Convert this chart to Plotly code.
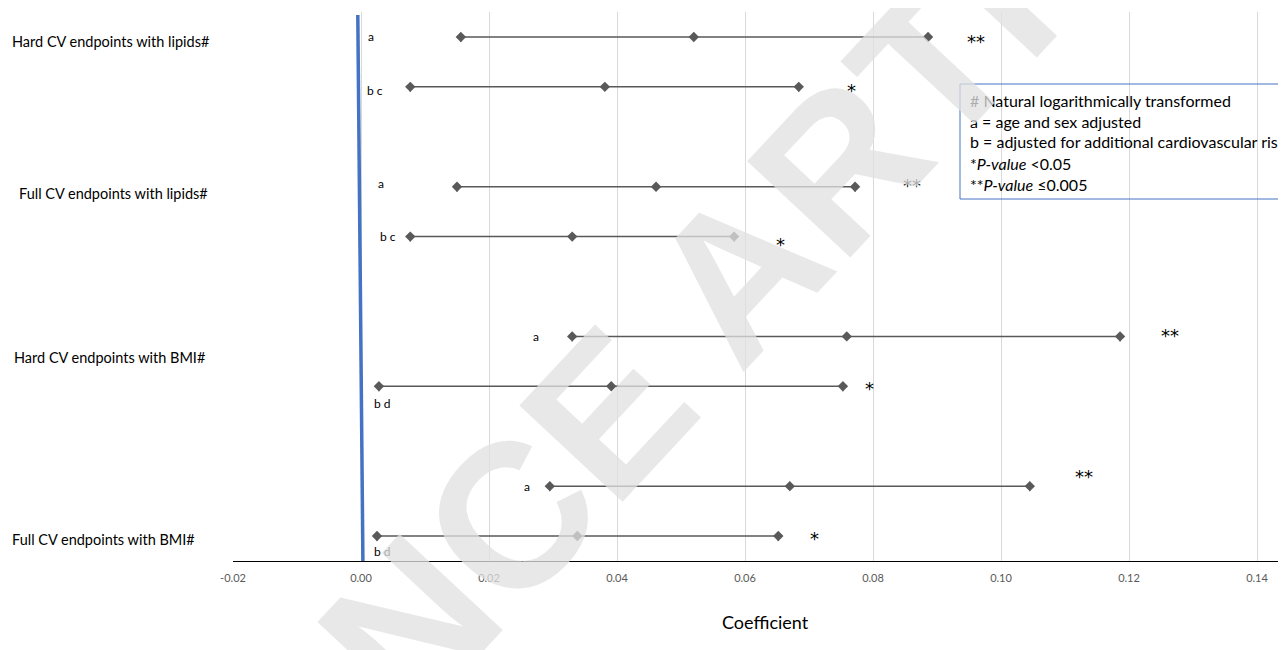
import plotly.graph_objects as go

# ---------------- data ----------------
categories = ["Hard CV endpoints with lipids#", "Full CV endpoints with lipids#",
              "Hard CV endpoints with BMI#", "Full CV endpoints with BMI#"]
row_tags = ["a", "b c", "a", "b c", "a", "b d", "a", "b d"]
ci_low = [0.0156, 0.0077, 0.0150, 0.0077, 0.0330, 0.0028, 0.0295, 0.0025]
coef = [0.0520, 0.0381, 0.0461, 0.0330, 0.0759, 0.0391, 0.0670, 0.0338]
ci_high = [0.0886, 0.0684, 0.0772, 0.0583, 0.1186, 0.0753, 0.1045, 0.0652]
sig = ["**", "*", "**", "*", "**", "*", "**", "*"]
x_ticks = [-0.02, 0.00, 0.02, 0.04, 0.06, 0.08, 0.10, 0.12, 0.14]
note_lines = ["# Natural logarithmically transformed",
              "a = age and sex adjusted",
              "b = adjusted for additional cardiovascular ris",
              "*<i>P-value</i> <0.05",
              "**<i>P-value</i> \u22640.005"]

# annotation placement (x in data units, y offsets in row units)
tag_x = [0.0016, 0.0022, 0.0031, 0.0042, 0.0273, 0.0034, 0.0259, 0.0034]
tag_dy = [0.0, -0.04, 0.03, 0.0, 0.0, -0.17, 0.0, -0.15]
star_x = [0.0961, 0.0767, 0.0861, 0.0655, 0.1264, 0.0794, 0.1130, 0.0709]
star_dy = [-0.03, -0.02, 0.03, -0.06, 0.03, 0.0, 0.12, 0.0]
cat_y = [5.45, 3.93, 2.29, 0.47]
cat_px = [10, 17, 12, 10]
ref_line_x = [-0.0005, 0.0003]

# page has an 8px body margin: work in screenshot pixels, convert to paper
OFF = 8
W, H = 1286, 650
L_S, T_S, B_S = 233, 12, 561          # plot area edges in screenshot pixels
L, T = L_S - OFF, T_S - OFF
B = H - (B_S - OFF)
R = 0
PW, PH = W - L - R, B_S - T_S
def px2paper_x(px):
    return (px - L_S) / PW
def px2paper_y(py):
    return (B_S - py) / PH

FONT = "Lato"
GREY = "#595959"

# row vertical positions derived from structure: 4 groups, 2 rows each
row_y = []
for g in range(4):
    top = 5.5 - 1.5 * g
    row_y += [top, top - 0.5]

fig = go.Figure()
for i in range(8):
    fig.add_trace(go.Scatter(
        x=[ci_low[i], coef[i], ci_high[i]], y=[row_y[i]] * 3,
        mode="lines+markers",
        line=dict(color=GREY, width=1.5),
        marker=dict(symbol="diamond", size=8, color=GREY),
        error_y=dict(type="data", symmetric=False, array=[0, 0, 0],
                     arrayminus=[0.05, 0, 0.05], width=0, thickness=1.2, color=GREY),
        showlegend=False, hoverinfo="skip"))

# vertical reference line
fig.add_shape(type="line", xref="x", yref="y", x0=ref_line_x[0], y0=5.72,
              x1=ref_line_x[1], y1=0.25, line=dict(color="#4472C4", width=3.5))

ann = []
for i in range(8):
    ann.append(dict(x=tag_x[i], y=row_y[i] + tag_dy[i], xref="x", yref="y",
                    text=row_tags[i], showarrow=False,
                    font=dict(family=FONT, size=12, color="#000000")))
    ann.append(dict(x=star_x[i], y=row_y[i] + star_dy[i], xref="x", yref="y",
                    text=sig[i], showarrow=False, yshift=-2,
                    font=dict(family="DejaVu Sans", size=18, color="#000000")))
for j, c in enumerate(categories):
    ann.append(dict(x=px2paper_x(cat_px[j]), y=cat_y[j], xref="paper", yref="y",
                    xanchor="left", text=c, showarrow=False,
                    font=dict(family=FONT, size=14.5, color="#000000")))
# note box
note_y = [100, 121, 142, 163, 184]
for k, t in enumerate(note_lines):
    ann.append(dict(x=px2paper_x(968), y=px2paper_y(note_y[k]), xref="paper", yref="paper",
                    xanchor="left", yanchor="middle", text=t, showarrow=False,
                    font=dict(family=FONT, size=16, color="#000000")))
fig.add_shape(type="rect", xref="paper", yref="paper",
              x0=px2paper_x(960), x1=px2paper_x(1400),
              y0=px2paper_y(84), y1=px2paper_y(199),
              line=dict(color="#4472C4", width=1), fillcolor="rgba(255,255,255,0)")
# axis title
ann.append(dict(x=px2paper_x(765), y=px2paper_y(622), xref="paper", yref="paper",
                xanchor="center", yanchor="middle",
                text="Coefficient", showarrow=False,
                font=dict(family=FONT, size=18, color="#000000")))
# watermark
ann.append(dict(x=px2paper_x(633), y=px2paper_y(385), xref="paper", yref="paper",
                xanchor="center", yanchor="middle",
                text="<b>ADVANCE ARTICLE</b>", showarrow=False, textangle=-47,
                font=dict(family="Liberation Sans", size=205, color="rgba(225,225,225,0.76)")))

fig.update_layout(
    width=W, height=H, margin=dict(l=L, r=R, t=T, b=B),
    paper_bgcolor="white", plot_bgcolor="white",
    annotations=ann,
    xaxis=dict(range=[-0.02, -0.02 + PW / 6400], tickvals=x_ticks,
               ticktext=[f"{v:.2f}" for v in x_ticks],
               showgrid=True, gridcolor="#d9d9d9", gridwidth=1,
               showline=True, linecolor="#000000", linewidth=1.3,
               zeroline=False, ticks="", ticklabelstandoff=7,
               tickfont=dict(family=FONT, size=11, color=GREY)),
    yaxis=dict(range=[0.25, 5.75], showgrid=False, zeroline=False,
               showticklabels=False, showline=False),
)

fig.write_html("out.html")
